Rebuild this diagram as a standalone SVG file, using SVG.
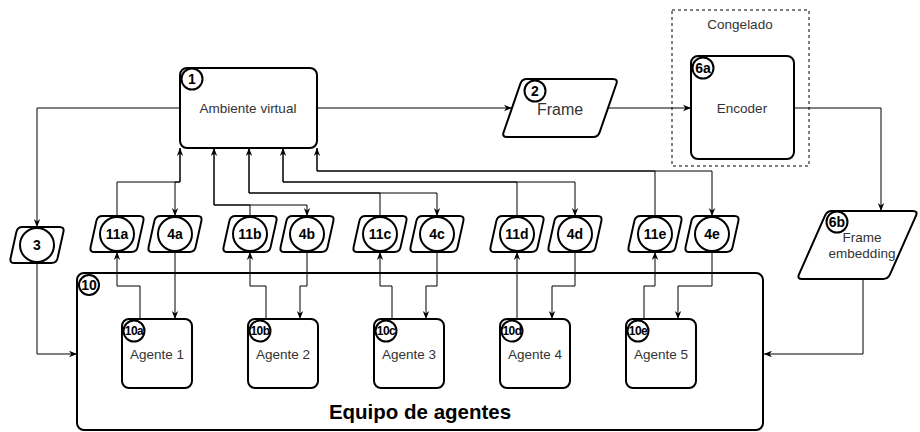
<svg xmlns="http://www.w3.org/2000/svg" width="920" height="432" viewBox="0 0 920 432">
<style>
.node{fill:#fff;stroke:#000;stroke-width:2}
.badge{fill:#fff;stroke:#000;stroke-width:2}
.bt{font-family:"Liberation Sans",Arial,sans-serif;font-weight:bold;font-size:14px;fill:#000;text-anchor:middle;dominant-baseline:central}
.bs{font-family:"Liberation Sans",Arial,sans-serif;font-weight:bold;font-size:12px;fill:#000;text-anchor:middle;dominant-baseline:central;letter-spacing:-0.5px}
.lbl{font-family:"Liberation Sans",Arial,sans-serif;font-size:13.5px;fill:#333;text-anchor:middle;dominant-baseline:central}
.edge{fill:none;stroke:#000;stroke-width:1;marker-end:url(#arr)}
</style>
<defs>
<marker id="arr" viewBox="0 0 10 10" refX="10" refY="5" markerWidth="8" markerHeight="8" markerUnits="userSpaceOnUse" orient="auto">
<path d="M0,1 L10,5 L0,9 L3,5 Z" fill="#000"/>
</marker>
<path id="para" d="M -14.5,-18 H 22.5 Q 27.5,-18 26.4,-13.1 L 20.6,13.1 Q 19.5,18 14.5,18 H -22.5 Q -27.5,18 -26.4,13.1 L -20.6,-13.1 Q -19.5,-18 -14.5,-18 Z"/>
</defs>
<rect width="920" height="432" fill="#fff"/>

<g id="n10">
<rect class="node" x="77" y="273" width="686" height="157" rx="7"/>
<circle class="badge" cx="89" cy="285" r="10"/>
<text class="bt" x="89" y="285">10</text>
<text x="420" y="411" style="font-family:'Liberation Sans',Arial,sans-serif;font-weight:bold;font-size:20.5px;fill:#000;text-anchor:middle;dominant-baseline:central">Equipo de agentes</text>
</g>

<g id="connectors">
<path class="edge" d="M180,108 H37 V227"/>
<path class="edge" d="M37,263 V354 H77"/>
<path class="edge" d="M317,108 H512"/>
<path class="edge" d="M608,108 H691"/>
<path class="edge" d="M794,108 H881 V211"/>
<path class="edge" d="M863,279 V354 H764"/>

<path class="edge" d="M117,216 V182 H180 V148"/>
<path class="edge" d="M180,148 V182 H175 V216"/>
<path class="edge" d="M250,216 V205 H214 V148"/>
<path class="edge" d="M214,148 V205 H307 V216"/>
<path class="edge" d="M380,216 V193 H249 V148"/>
<path class="edge" d="M249,148 V193 H437 V216"/>
<path class="edge" d="M517,216 V182 H283 V148"/>
<path class="edge" d="M283,148 V182 H575 V216"/>
<path class="edge" d="M655,216 V171 H317 V148"/>
<path class="edge" d="M317,148 V171 H712 V216"/>

<path class="edge" d="M140,319 V286 H117 V252"/>
<path class="edge" d="M175,252 V319"/>
<path class="edge" d="M266,319 V286 H250 V252"/>
<path class="edge" d="M307,252 V286 H300 V319"/>
<path class="edge" d="M392,319 V286 H380 V252"/>
<path class="edge" d="M437,252 V286 H426 V319"/>
<path class="edge" d="M517,319 V252"/>
<path class="edge" d="M575,252 V286 H552 V319"/>
<path class="edge" d="M644,319 V286 H655 V252"/>
<path class="edge" d="M712,252 V286 H678 V319"/>
</g>

<g id="congelado">
<rect x="672" y="10" width="137" height="156" fill="none" stroke="#000" stroke-width="1" stroke-dasharray="3,3"/>
<text class="lbl" x="740" y="24">Congelado</text>
</g>

<g id="n1">
<rect class="node" x="180" y="68" width="137" height="80" rx="7"/>
<text class="lbl" x="248" y="108">Ambiente virtual</text>
<circle class="badge" cx="192" cy="79" r="10.5"/>
<text class="bt" x="192" y="79">1</text>
</g>

<g id="n2">
<path class="node" d="M 527,79 H 613 Q 618,79 616.4,83.7 L 599.6,132.3 Q 598,137 593,137 H 507 Q 502,137 503.6,132.3 L 520.4,83.7 Q 522,79 527,79 Z"/>
<text class="lbl" x="560" y="109" style="font-size:16px">Frame</text>
<circle class="badge" cx="535" cy="91" r="10.5"/>
<text class="bt" x="535" y="91">2</text>
</g>

<g id="n6a">
<rect class="node" x="691" y="56" width="103" height="103" rx="7"/>
<text class="lbl" x="742" y="108">Encoder</text>
<circle class="badge" cx="703" cy="68" r="10.5"/>
<text class="bt" x="703" y="68">6a</text>
</g>

<g id="n6b">
<path class="node" d="M 832,211 H 913 Q 918,211 916,215.6 L 890,274.4 Q 888,279 883,279 H 802 Q 797,279 799,274.4 L 825,215.6 Q 827,211 832,211 Z"/>
<text class="lbl" x="862" y="237">Frame</text>
<text class="lbl" x="862" y="253">embedding</text>
<circle class="badge" cx="837" cy="222" r="10.5"/>
<text class="bt" x="837" y="222">6b</text>
</g>

<g id="n3">
<use href="#para" class="node" x="37" y="245"/>
<circle class="badge" cx="37" cy="245" r="17"/>
<text class="bt" x="37" y="245">3</text>
</g>

<g id="n11a"><use href="#para" class="node" x="117" y="234"/><circle class="badge" cx="117" cy="234" r="17"/><text class="bt" x="117" y="234">11a</text></g>
<g id="n4a"><use href="#para" class="node" x="175" y="234"/><circle class="badge" cx="175" cy="234" r="17"/><text class="bt" x="175" y="234">4a</text></g>
<g id="n11b"><use href="#para" class="node" x="250" y="234"/><circle class="badge" cx="250" cy="234" r="17"/><text class="bt" x="250" y="234">11b</text></g>
<g id="n4b"><use href="#para" class="node" x="307" y="234"/><circle class="badge" cx="307" cy="234" r="17"/><text class="bt" x="307" y="234">4b</text></g>
<g id="n11c"><use href="#para" class="node" x="380" y="234"/><circle class="badge" cx="380" cy="234" r="17"/><text class="bt" x="380" y="234">11c</text></g>
<g id="n4c"><use href="#para" class="node" x="437" y="234"/><circle class="badge" cx="437" cy="234" r="17"/><text class="bt" x="437" y="234">4c</text></g>
<g id="n11d"><use href="#para" class="node" x="517" y="234"/><circle class="badge" cx="517" cy="234" r="17"/><text class="bt" x="517" y="234">11d</text></g>
<g id="n4d"><use href="#para" class="node" x="575" y="234"/><circle class="badge" cx="575" cy="234" r="17"/><text class="bt" x="575" y="234">4d</text></g>
<g id="n11e"><use href="#para" class="node" x="655" y="234"/><circle class="badge" cx="655" cy="234" r="17"/><text class="bt" x="655" y="234">11e</text></g>
<g id="n4e"><use href="#para" class="node" x="712" y="234"/><circle class="badge" cx="712" cy="234" r="17"/><text class="bt" x="712" y="234">4e</text></g>

<g id="n10a"><rect class="node" x="122" y="319" width="70" height="69" rx="7"/><text class="lbl" x="157" y="354">Agente 1</text><circle class="badge" cx="134" cy="331" r="10.5"/><text class="bs" x="134" y="331">10a</text></g>
<g id="n10b"><rect class="node" x="248" y="319" width="70" height="69" rx="7"/><text class="lbl" x="283" y="354">Agente 2</text><circle class="badge" cx="260" cy="331" r="10.5"/><text class="bs" x="260" y="331">10b</text></g>
<g id="n10c"><rect class="node" x="374" y="319" width="70" height="69" rx="7"/><text class="lbl" x="409" y="354">Agente 3</text><circle class="badge" cx="386" cy="331" r="10.5"/><text class="bs" x="386" y="331">10c</text></g>
<g id="n10d"><rect class="node" x="500" y="319" width="70" height="69" rx="7"/><text class="lbl" x="535" y="354">Agente 4</text><circle class="badge" cx="512" cy="331" r="10.5"/><text class="bs" x="512" y="331">10d</text></g>
<g id="n10e"><rect class="node" x="626" y="319" width="70" height="69" rx="7"/><text class="lbl" x="661" y="354">Agente 5</text><circle class="badge" cx="638" cy="331" r="10.5"/><text class="bs" x="638" y="331">10e</text></g>
</svg>
